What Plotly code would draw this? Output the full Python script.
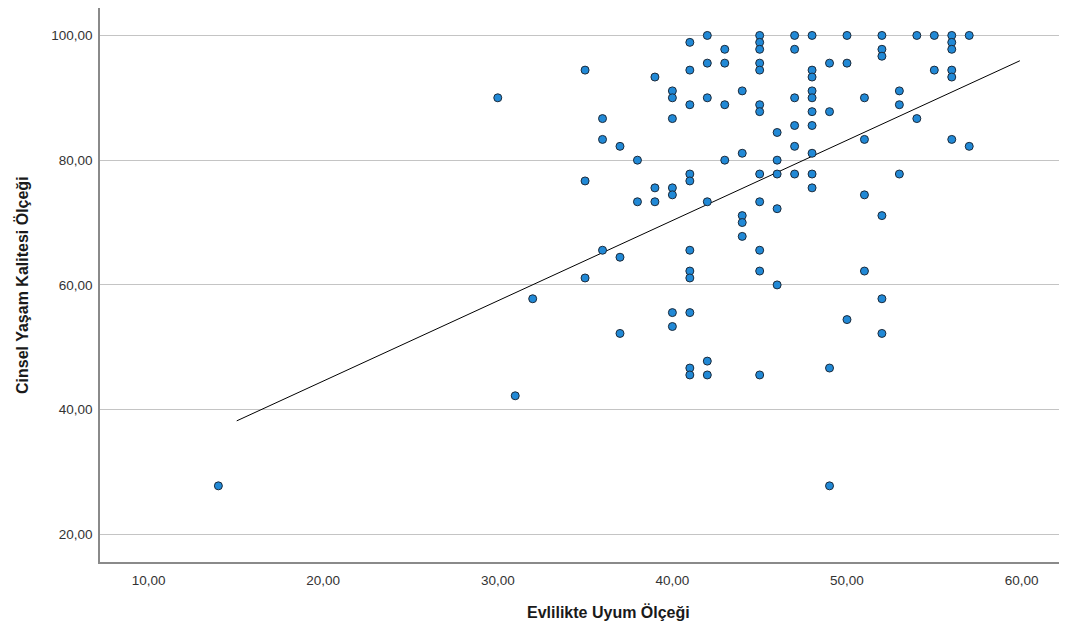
import plotly.graph_objects as go

# Evlilikte Uyum Ölçeği (x) and Cinsel Yaşam Kalitesi Ölçeği (y)
x_values = [
    14, 30, 31, 32,
    35, 35, 35,
    36, 36, 36,
    37, 37, 37,
    38, 38,
    39, 39, 39,
    40, 40, 40, 40, 40, 40, 40,
    41, 41, 41, 41, 41, 41, 41, 41, 41, 41, 41,
    42, 42, 42, 42, 42, 42,
    43, 43, 43, 43,
    44, 44, 44, 44, 44,
    45, 45, 45, 45, 45, 45, 45, 45, 45, 45, 45, 45,
    46, 46, 46, 46, 46,
    47, 47, 47, 47, 47, 47,
    48, 48, 48, 48, 48, 48, 48, 48, 48, 48,
    49, 49, 49, 49,
    50, 50, 50,
    51, 51, 51, 51,
    52, 52, 52, 52, 52, 52,
    53, 53, 53,
    54, 54,
    55, 55,
    56, 56, 56, 56, 56, 56,
    57, 57,
]
y_values = [
    27.78, 90.00, 42.22, 57.78,
    94.44, 76.67, 61.11,
    86.67, 83.33, 65.56,
    82.22, 64.44, 52.22,
    80.00, 73.33,
    93.33, 75.56, 73.33,
    91.11, 90.00, 86.67, 75.56, 74.44, 55.56, 53.33,
    98.89, 94.44, 88.89, 77.78, 76.67, 65.56, 62.22, 61.11, 55.56, 46.67, 45.56,
    100.00, 95.56, 90.00, 73.33, 47.78, 45.56,
    97.78, 95.56, 88.89, 80.00,
    91.11, 81.11, 71.11, 70.00, 67.78,
    100.00, 98.89, 97.78, 95.56, 94.44, 88.89, 87.78, 77.78, 73.33, 65.56, 62.22, 45.56,
    84.44, 80.00, 77.78, 72.22, 60.00,
    100.00, 97.78, 90.00, 85.56, 82.22, 77.78,
    100.00, 94.44, 93.33, 91.11, 90.00, 87.78, 85.56, 81.11, 77.78, 75.56,
    95.56, 87.78, 46.67, 27.78,
    100.00, 95.56, 54.44,
    90.00, 83.33, 74.44, 62.22,
    100.00, 97.78, 96.67, 71.11, 57.78, 52.22,
    91.11, 88.89, 77.78,
    100.00, 86.67,
    100.00, 94.44,
    100.00, 98.89, 97.78, 94.44, 93.33, 83.33,
    100.00, 82.22,
]
# fit line (total) endpoints
fit_x = [15.05, 59.9]
fit_y = [38.2, 95.94]
x_ticks = [10, 20, 30, 40, 50, 60]
y_ticks = [20, 40, 60, 80, 100]

fig = go.Figure()
fig.add_trace(go.Scatter(
    x=fit_x, y=fit_y, mode="lines",
    line=dict(color="black", width=1), hoverinfo="skip", showlegend=False,
))
fig.add_trace(go.Scatter(
    x=x_values, y=y_values, mode="markers",
    marker=dict(size=8, color="#2189d6", line=dict(color="#1c2a3a", width=1)),
    showlegend=False,
))

font_family = "Liberation Sans, Arial, sans-serif"
fig.update_layout(
    width=1059, height=622,
    margin=dict(l=92, r=0, t=0, b=68),
    paper_bgcolor="white", plot_bgcolor="white",
    separators=",.",
    font=dict(family=font_family, size=13.5, color="#333333"),
    xaxis=dict(
        range=[7.22, 62.6], tickvals=x_ticks, tickformat=".2f",
        showgrid=False, zeroline=False, showline=True, linecolor="#8a8a8a", linewidth=1.5,
        ticks="", ticklabelstandoff=5,
    ),
    yaxis=dict(
        range=[15.57, 104.4], tickvals=y_ticks, tickformat=".2f",
        showgrid=True, gridcolor="#c4c4c4", gridwidth=1,
        zeroline=False, showline=True, linecolor="#8a8a8a", linewidth=1.5,
        ticks="", ticklabelstandoff=3,
    ),
    annotations=[
        dict(text="<b>Evlilikte Uyum Ölçeği</b>", xref="paper", yref="paper",
             x=(608 - 100) / 967, y=-50 / 554, xanchor="center", yanchor="middle",
             showarrow=False, font=dict(family=font_family, size=16, color="#1a1a1a")),
        dict(text="<b>Cinsel Yaşam Kalitesi Ölçeği</b>", xref="paper", yref="paper",
             x=(22 - 100) / 967, y=0.5, xanchor="center", yanchor="middle", textangle=-90,
             showarrow=False, font=dict(family=font_family, size=16, color="#1a1a1a")),
    ],
)

fig.write_html("out.html")
